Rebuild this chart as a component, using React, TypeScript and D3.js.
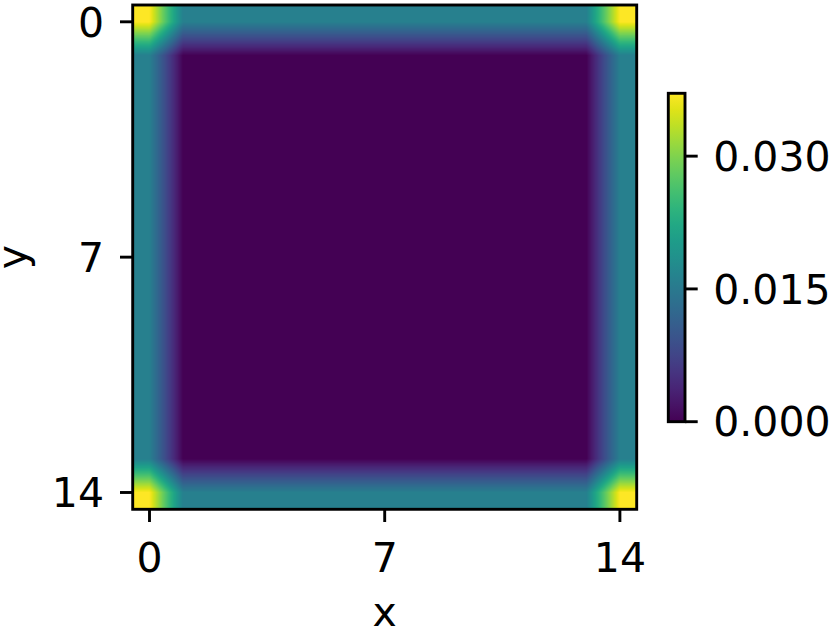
import React, { useRef, useEffect } from "react";
import * as d3 from "d3";

// 15 x 15 grid (row 0 at top)
const cellValues: number[][] = [
  [0.0371, 0.016, 0.016, 0.016, 0.016, 0.016, 0.016, 0.016, 0.016, 0.016, 0.016, 0.016, 0.016, 0.016, 0.0371],
  [0.016, 0, 0, 0, 0, 0, 0, 0, 0, 0, 0, 0, 0, 0, 0.016],
  [0.016, 0, 0, 0, 0, 0, 0, 0, 0, 0, 0, 0, 0, 0, 0.016],
  [0.016, 0, 0, 0, 0, 0, 0, 0, 0, 0, 0, 0, 0, 0, 0.016],
  [0.016, 0, 0, 0, 0, 0, 0, 0, 0, 0, 0, 0, 0, 0, 0.016],
  [0.016, 0, 0, 0, 0, 0, 0, 0, 0, 0, 0, 0, 0, 0, 0.016],
  [0.016, 0, 0, 0, 0, 0, 0, 0, 0, 0, 0, 0, 0, 0, 0.016],
  [0.016, 0, 0, 0, 0, 0, 0, 0, 0, 0, 0, 0, 0, 0, 0.016],
  [0.016, 0, 0, 0, 0, 0, 0, 0, 0, 0, 0, 0, 0, 0, 0.016],
  [0.016, 0, 0, 0, 0, 0, 0, 0, 0, 0, 0, 0, 0, 0, 0.016],
  [0.016, 0, 0, 0, 0, 0, 0, 0, 0, 0, 0, 0, 0, 0, 0.016],
  [0.016, 0, 0, 0, 0, 0, 0, 0, 0, 0, 0, 0, 0, 0, 0.016],
  [0.016, 0, 0, 0, 0, 0, 0, 0, 0, 0, 0, 0, 0, 0, 0.016],
  [0.016, 0, 0, 0, 0, 0, 0, 0, 0, 0, 0, 0, 0, 0, 0.016],
  [0.0371, 0.016, 0.016, 0.016, 0.016, 0.016, 0.016, 0.016, 0.016, 0.016, 0.016, 0.016, 0.016, 0.016, 0.0371],
];

const xTicks = [0, 7, 14];
const yTicks = [0, 7, 14];
const colorTicks = [0, 0.015, 0.03];
const colorMax = 0.0371;

const App = () => {
  const ref = useRef<SVGSVGElement>(null);

  useEffect(() => {
    const svg = d3.select(ref.current);
    svg.selectAll("*").remove();

    const width = 834;
    const height = 629;
    const font = "DejaVu Sans, sans-serif";
    const fontSize = 41;
    const lw = 2.9;
    const tickLen = 12.7;

    svg.attr("width", width).attr("height", height);

    const n = cellValues.length;
    const x = d3.scaleLinear().domain([-0.5, n - 0.5]).range([132.7, 636.7]);
    const y = d3.scaleLinear().domain([-0.5, n - 0.5]).range([5, 509.3]);
    const color = d3.scaleSequential(d3.interpolateViridis).domain([0, colorMax]);

    // bilinear interpolation of the grid into a canvas image
    const x0 = x.range()[0];
    const y0 = y.range()[0];
    const iw = Math.round(x.range()[1] - x0);
    const ih = Math.round(y.range()[1] - y0);
    const canvas = document.createElement("canvas");
    canvas.width = iw;
    canvas.height = ih;
    const ctx = canvas.getContext("2d")!;
    const img = ctx.createImageData(iw, ih);
    const clamp = (v: number) => Math.max(0, Math.min(n - 1, v));
    for (let j = 0; j < ih; j++) {
      const v = clamp(y.invert(y0 + j + 0.5));
      const r0 = Math.min(n - 2, Math.floor(v));
      const ty = v - r0;
      for (let i = 0; i < iw; i++) {
        const u = clamp(x.invert(x0 + i + 0.5));
        const c0 = Math.min(n - 2, Math.floor(u));
        const tx = u - c0;
        const a = cellValues[r0][c0] * (1 - tx) + cellValues[r0][c0 + 1] * tx;
        const b = cellValues[r0 + 1][c0] * (1 - tx) + cellValues[r0 + 1][c0 + 1] * tx;
        const val = a * (1 - ty) + b * ty;
        const c = d3.rgb(color(val));
        const k = (j * iw + i) * 4;
        img.data[k] = c.r;
        img.data[k + 1] = c.g;
        img.data[k + 2] = c.b;
        img.data[k + 3] = 255;
      }
    }
    ctx.putImageData(img, 0, 0);

    svg
      .append("image")
      .attr("x", x0)
      .attr("y", y0)
      .attr("width", iw)
      .attr("height", ih)
      .attr("preserveAspectRatio", "none")
      .attr("href", canvas.toDataURL());

    svg
      .append("rect")
      .attr("x", x0)
      .attr("y", y0)
      .attr("width", x.range()[1] - x0)
      .attr("height", y.range()[1] - y0)
      .attr("fill", "none")
      .attr("stroke", "black")
      .attr("stroke-width", lw);

    // x ticks
    const yb = y.range()[1];
    xTicks.forEach((t) => {
      svg
        .append("line")
        .attr("x1", x(t))
        .attr("x2", x(t))
        .attr("y1", yb)
        .attr("y2", yb + tickLen)
        .attr("stroke", "black")
        .attr("stroke-width", lw);
      svg
        .append("text")
        .attr("x", x(t))
        .attr("y", 572)
        .attr("text-anchor", "middle")
        .attr("font-family", font)
        .attr("font-size", fontSize)
        .text(t);
    });

    // y ticks
    yTicks.forEach((t) => {
      svg
        .append("line")
        .attr("x1", x0 - tickLen)
        .attr("x2", x0)
        .attr("y1", y(t))
        .attr("y2", y(t))
        .attr("stroke", "black")
        .attr("stroke-width", lw);
      svg
        .append("text")
        .attr("x", 104)
        .attr("y", y(t))
        .attr("dy", "0.36em")
        .attr("text-anchor", "end")
        .attr("font-family", font)
        .attr("font-size", fontSize)
        .text(t);
    });

    svg
      .append("text")
      .attr("x", (x.range()[0] + x.range()[1]) / 2)
      .attr("y", 626)
      .attr("text-anchor", "middle")
      .attr("font-family", font)
      .attr("font-size", fontSize)
      .text("x");

    svg
      .append("text")
      .attr("transform", `translate(26,${(y0 + yb) / 2}) rotate(-90)`)
      .attr("text-anchor", "middle")
      .attr("font-family", font)
      .attr("font-size", fontSize)
      .text("y");

    // colorbar
    const cb = d3.scaleLinear().domain([0, colorMax]).range([421.7, 93.3]);
    const cbX = 668.3;
    const cbW = 16.7;
    const grad = svg
      .append("defs")
      .append("linearGradient")
      .attr("id", "cbgrad")
      .attr("x1", 0)
      .attr("y1", 1)
      .attr("x2", 0)
      .attr("y2", 0);
    d3.range(0, 1.0001, 0.05).forEach((p) => {
      grad
        .append("stop")
        .attr("offset", p)
        .attr("stop-color", color(p * colorMax));
    });
    svg
      .append("rect")
      .attr("x", cbX)
      .attr("y", cb(colorMax))
      .attr("width", cbW)
      .attr("height", cb(0) - cb(colorMax))
      .attr("fill", "url(#cbgrad)")
      .attr("stroke", "black")
      .attr("stroke-width", lw);

    colorTicks.forEach((t) => {
      svg
        .append("line")
        .attr("x1", cbX + cbW)
        .attr("x2", cbX + cbW + tickLen)
        .attr("y1", cb(t))
        .attr("y2", cb(t))
        .attr("stroke", "black")
        .attr("stroke-width", lw);
      svg
        .append("text")
        .attr("x", cbX + cbW + tickLen + 15.5)
        .attr("y", cb(t))
        .attr("dy", "0.36em")
        .attr("font-family", font)
        .attr("font-size", fontSize)
        .text(d3.format(".3f")(t));
    });
  }, []);

  return (
    <div style={{ position: "absolute", left: 0, top: 0 }}>
      <svg ref={ref} style={{ display: "block" }}></svg>
    </div>
  );
};

export default App;
